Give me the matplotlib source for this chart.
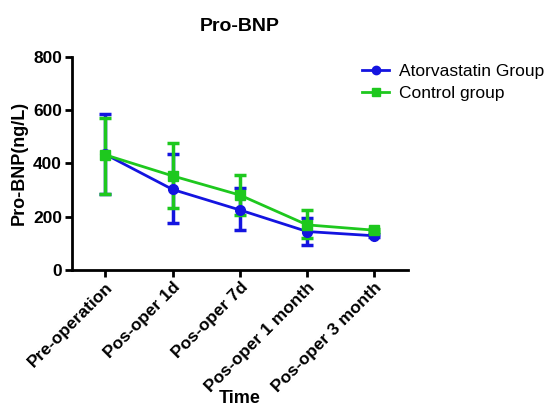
import matplotlib.pyplot as plt
from matplotlib.lines import Line2D
import numpy as np

plt.rcParams['font.family'] = ['Liberation Sans', 'DejaVu Sans']

times = ['Pre-operation', 'Pos-oper 1d', 'Pos-oper 7d', 'Pos-oper 1 month', 'Pos-oper 3 month']

# mean and error (upper / lower)
ator_mean = [434, 302, 225, 144, 128]
ator_up = [152, 132, 81, 52, 6]
ator_lo = [150, 127, 76, 51, 6]

ctrl_mean = [432, 353, 281, 169, 149]
ctrl_up = [140, 125, 77, 55, 6]
ctrl_lo = [146, 122, 76, 48, 6]

blue = '#1414e0'
green = '#1ec81e'

fig = plt.figure(figsize=(5.44, 4.07), dpi=100, facecolor='white')
ax = fig.add_axes([0.132, 0.337, 0.618, 0.523])

x = np.arange(len(times))
ax.errorbar(x, ator_mean, yerr=[ator_lo, ator_up], color=blue, marker='o', ms=7,
            lw=2, elinewidth=2.5, capsize=4, capthick=2.5)
ax.errorbar(x, ctrl_mean, yerr=[ctrl_lo, ctrl_up], color=green, marker='s', ms=7,
            lw=2, elinewidth=2.5, capsize=4, capthick=2.5)

ax.set_xlim(-0.5, 4.5)
ax.set_ylim(0, 800)
ax.set_yticks([0, 200, 400, 600, 800])
ax.set_xticks(x)
ax.set_xticklabels(times, rotation=45, ha='right', rotation_mode='anchor')
for lab in ax.get_xticklabels() + ax.get_yticklabels():
    lab.set_fontweight('bold')
    lab.set_fontsize(12.5)

ax.spines['top'].set_visible(False)
ax.spines['right'].set_visible(False)
ax.spines['left'].set_linewidth(2)
ax.spines['bottom'].set_linewidth(2)
ax.tick_params(width=2, length=5, pad=2)

ax.set_ylabel('Pro-BNP(ng/L)', fontsize=13, fontweight='bold', labelpad=4)
ax.set_title('Pro-BNP', fontsize=14, fontweight='bold', pad=19)
fig.text(0.441, 0.0, 'Time', fontsize=13, fontweight='bold', ha='center', va='bottom')

handles = [Line2D([], [], color=blue, marker='o', ms=6, lw=2),
           Line2D([], [], color=green, marker='s', ms=6, lw=2)]
fig.legend(handles, ['Atorvastatin Group', 'Control group'], loc='upper left',
           bbox_to_anchor=(0.652, 0.86), frameon=False, fontsize=12.5,
           handlelength=1.6, handletextpad=0.55, labelspacing=0.4, borderaxespad=0)

fig.savefig('out.png', dpi=100, facecolor='white')
